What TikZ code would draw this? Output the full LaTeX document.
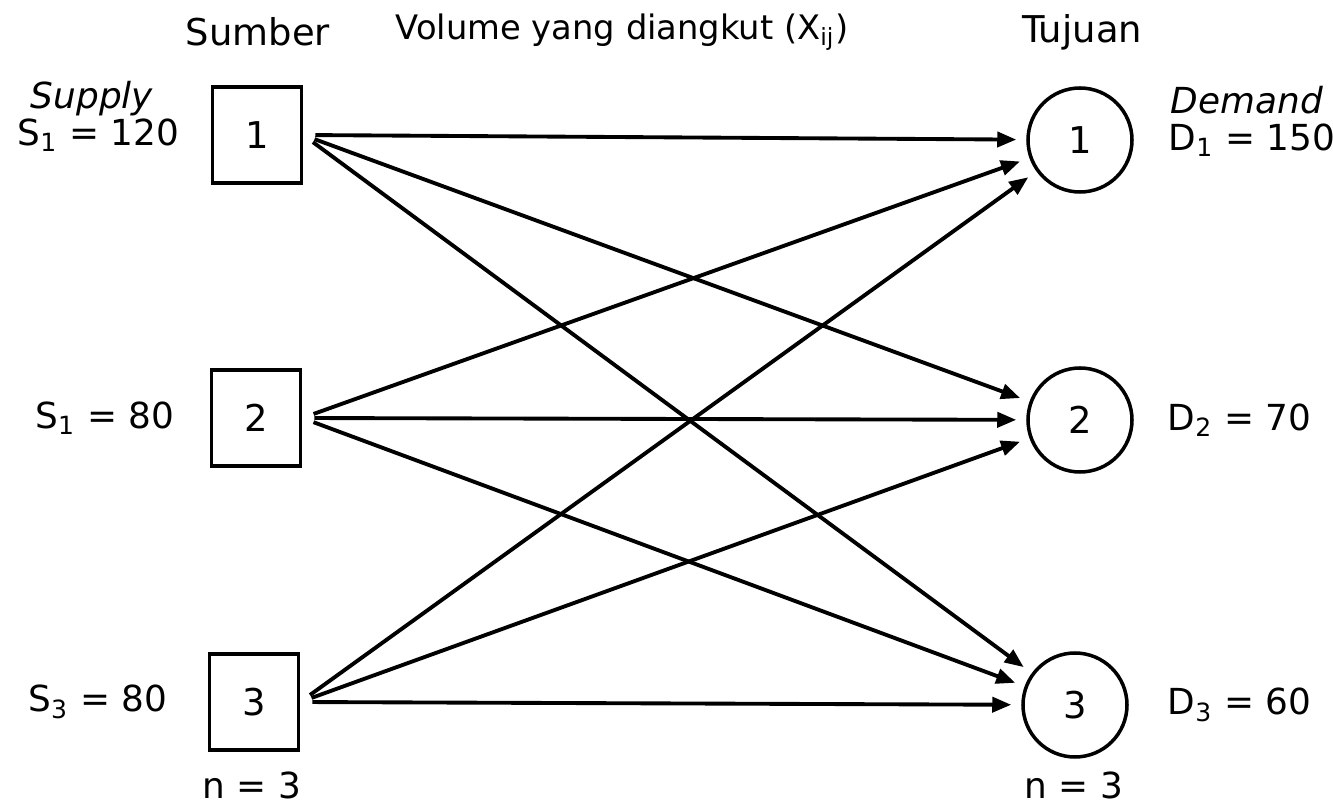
\documentclass[tikz,border=0pt]{standalone}
\usepackage{fontspec}
\setmainfont{DejaVu Sans}
\usetikzlibrary{arrows.meta, positioning}

\begin{document}
\begin{tikzpicture}[
        every node/.style={font=\fontsize{10.5}{12}\selectfont, inner sep=0pt},
        valtext/.style={font=\fontsize{10.2}{12}\selectfont},
        srcbox/.style={draw, line width=1pt, minimum width=0.89cm, minimum height=0.96cm},
        dstcircle/.style={draw, circle, line width=1pt, minimum size=1.04cm},
        flow/.style={-{Triangle[length=1.9mm, width=1.5mm]}, line width=1.1pt, shorten <=0.12cm, shorten >=0.1cm}
    ]
        \useasboundingbox (0, 0) rectangle (13.33, 8.05);

        % Headings
        \node (hsrc) at (2.58, 7.73) {Sumber};
        \node[font=\fontsize{9.6}{11}\selectfont] (hvol) at (6.22, 7.73) {Volume yang diangkut (X\textsubscript{ij})};
        \node (hdst) at (10.82, 7.73) {Tujuan};

        % Sources
        \node[srcbox] (src1) at (2.57, 6.70) {1};
        \node[srcbox] (src2) at (2.56, 3.87) {2};
        \node[srcbox] (src3) at (2.54, 1.03) {3};

        % Destinations
        \node[dstcircle] (dst1) at (10.80, 6.65) {1};
        \node[dstcircle] (dst2) at (10.80, 3.85) {2};
        \node[dstcircle] (dst3) at (10.75, 1.00) {3};

        % Supply
        \node[font=\fontsize{10.2}{12}\selectfont\itshape] (supply) at (0.92, 7.06) {Supply};
        \node[valtext, anchor=east] (sup1) at (1.80, 6.70) {S\textsubscript{1} = 120};
        \node[valtext, anchor=east] (sup2) at (1.75, 3.87) {S\textsubscript{1} = 80};
        \node[valtext, anchor=east] (sup3) at (1.68, 1.03) {S\textsubscript{3} = 80};
        \node[valtext] (nsrc) at (2.52, 0.20) {n = 3};

        % Demand
        \node[font=\fontsize{10.2}{12}\selectfont\itshape] (demand) at (12.47, 7.05) {Demand};
        \node[valtext, anchor=west] (dem1) at (11.68, 6.65) {D\textsubscript{1} = 150};
        \node[valtext, anchor=west] (dem2) at (11.67, 3.85) {D\textsubscript{2} = 70};
        \node[valtext, anchor=west] (dem3) at (11.67, 1.00) {D\textsubscript{3} = 60};
        \node[valtext] (ndst) at (10.74, 0.20) {n = 3};

        % Routes
        \draw[flow] (src1.east) -- (dst1);
        \draw[flow] (src1.east) -- (dst2);
        \draw[flow] (src1.east) -- (dst3);
        \draw[flow] (src2.east) -- (dst1);
        \draw[flow] (src2.east) -- (dst2);
        \draw[flow] (src2.east) -- (dst3);
        \draw[flow] (src3.east) -- (dst1);
        \draw[flow] (src3.east) -- (dst2);
        \draw[flow] (src3.east) -- (dst3);
    \end{tikzpicture}
\end{document}
